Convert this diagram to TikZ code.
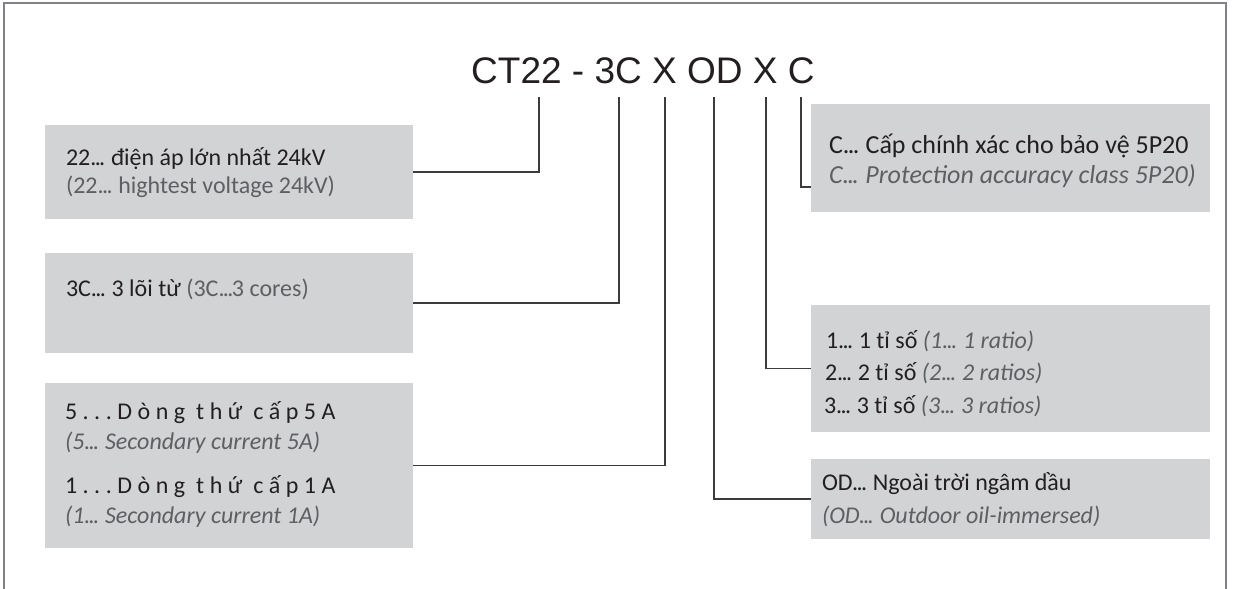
\documentclass[tikz,border=0pt]{standalone}
\usepackage{fontspec}
\setmainfont{Carlito}
\newfontfamily\titlefont{Liberation Sans}
\usetikzlibrary{calc}
\definecolor{boxgray}{HTML}{D1D3D4}
\definecolor{inkblack}{HTML}{231F20}
\definecolor{inkgray}{HTML}{5E5F62}
\definecolor{framegray}{HTML}{808285}
\definecolor{wiregray}{HTML}{3C3C3E}
\newcommand\ddd{.\kern-1.6pt.\kern-1.6pt.\kern-1.5pt}
\tikzset{
  infobox/.style={fill=boxgray, draw=none},
  wire/.style={draw=wiregray, line width=1.1pt},
  framestyle/.style={draw=framegray, line width=1.5pt},
  txt/.style={anchor=base west, inner sep=0pt, outer sep=0pt, text=inkblack, font=\fontsize{24}{28}\selectfont},
  gtxt/.style={txt, text=inkgray},
  gitxt/.style={txt, text=inkgray, font=\fontsize{24}{28}\selectfont\itshape},
  bigtxt/.style={txt, font=\fontsize{26}{30}\selectfont},
  bigitxt/.style={txt, text=inkgray, font=\fontsize{26}{30}\selectfont\itshape},
  spaced/.style={txt, font=\fontsize{24}{28}\selectfont\addfontfeature{LetterSpace=23}},
  tap/.style={inner sep=0pt, outer sep=0pt, minimum size=0pt}
}
\begin{document}
\begin{tikzpicture}[x=1pt,y=-1pt]
\useasboundingbox (0,0) rectangle (1235,589);
% frame
\draw[framestyle] (4,589) -- (4,3) -- (1226,3) -- (1226,589);
% title
\node[anchor=base west, inner sep=0pt, text=inkblack, font=\titlefont\fontsize{37}{41}\selectfont] (title) at (471,83) {CT22 - 3C X OD X C};
% taps under title
\coordinate (t1) at (539,97);
\coordinate (t2) at (619,97);
\coordinate (t3) at (665,97);
\coordinate (t4) at (714,97);
\coordinate (t5) at (766,97);
\coordinate (t6) at (801,97);
% boxes
\path[infobox] (45,125) rectangle (413,219);
\node[tap] (b1) at (229,172) [minimum width=368pt, minimum height=94pt] {};
\path[infobox] (45,253) rectangle (413,353);
\node[tap] (b2) at (229,303) [minimum width=368pt, minimum height=100pt] {};
\path[infobox] (45,383) rectangle (413,548);
\node[tap] (b3) at (229,465.5) [minimum width=368pt, minimum height=165pt] {};
\path[infobox] (811,104) rectangle (1210,212);
\node[tap] (bC) at (1010.5,158) [minimum width=399pt, minimum height=108pt] {};
\path[infobox] (811,305) rectangle (1210,432);
\node[tap] (bR) at (1010.5,368.5) [minimum width=399pt, minimum height=127pt] {};
\path[infobox] (811,459) rectangle (1210,539);
\node[tap] (bOD) at (1010.5,499) [minimum width=399pt, minimum height=80pt] {};
% connectors
\draw[wire] (t1) |- (b1.east);
\draw[wire] (t2) |- (b2.east);
\draw[wire] (t3) |- (b3.east);
\draw[wire] (t4) |- (bOD.west);
\draw[wire] (t5) |- (bR.west);
\draw[wire] (t6) |- ([yshift=-29pt]bC.west);
% texts
\node[txt] (l1a) at (66,165) {22\ddd{} điện áp lớn nhất 24kV};
\node[gtxt] (l1b) at (66,193) {(22\ddd{} hightest voltage 24kV)};
\node[txt] (l2a) at (66,296) {3C\ddd{} 3 lõi từ \textcolor{inkgray}{(3C\ddd3 cores)}};
\node[spaced] (l3a) at (65,419) {5...Dòng thứ cấp5A};
\node[gitxt] (l3b) at (65,449) {(5\ddd{} Secondary current 5A)};
\node[spaced] (l3c) at (65,493) {1...Dòng thứ cấp1A};
\node[gitxt] (l3d) at (65,523) {(1\ddd{} Secondary current 1A)};
\node[bigtxt] (lCa) at (829,153) {C\ddd{} Cấp chính xác cho bảo vệ 5P20};
\node[bigitxt] (lCb) at (829,183) {C\ddd{} Protection accuracy class 5P20)};
\node[txt] (lRa) at (826,348) {1\ddd{} 1 tỉ số \textcolor{inkgray}{\itshape (1\ddd{} 1 ratio)}};
\node[txt] (lRb) at (825,380) {2\ddd{} 2 tỉ số \textcolor{inkgray}{\itshape (2\ddd{} 2 ratios)}};
\node[txt] (lRc) at (824,413) {3\ddd{} 3 tỉ số \textcolor{inkgray}{\itshape (3\ddd{} 3 ratios)}};
\node[txt] (lOa) at (822,490) {OD\ddd{} Ngoài trời ngâm dầu};
\node[gitxt] (lOb) at (822,523) {(OD\ddd{} Outdoor oil-immersed)};
\end{tikzpicture}
\end{document}
